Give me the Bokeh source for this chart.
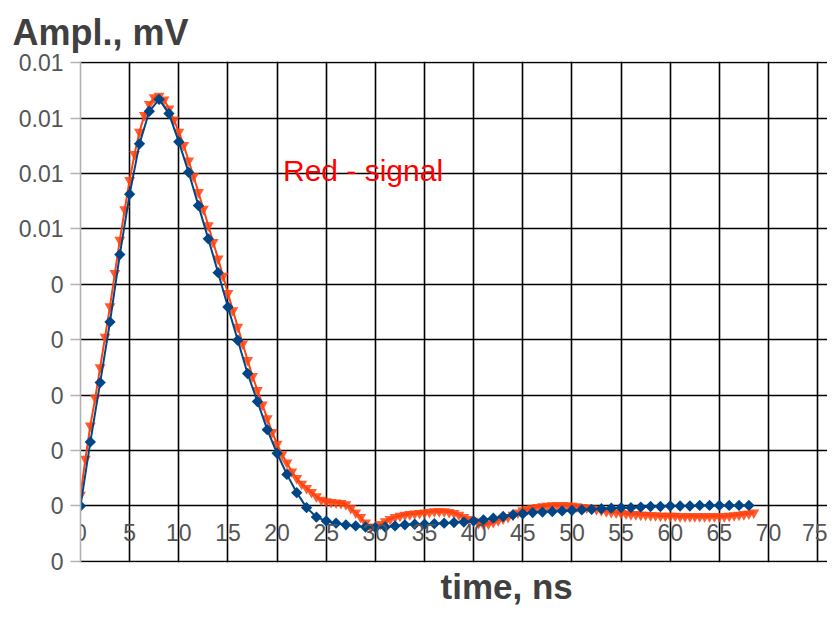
from bokeh.plotting import figure
from bokeh.models import FixedTicker, Label, Range1d, Title
from bokeh.embed import file_html
from bokeh.resources import INLINE
import math

# ---- data (amplitude values in units of 0.001) ----
blue_t = list(range(0, 69))
blue_v = [0.0, 1.156, 2.226, 3.321, 4.536, 5.626, 6.534, 7.121, 7.336, 7.08,
          6.57, 6.02, 5.42, 4.82, 4.21, 3.59, 2.99, 2.39, 1.885, 1.377,
          0.95, 0.57, 0.24, -0.03, -0.20, -0.27, -0.31, -0.34, -0.36, -0.38,
          -0.39, -0.38, -0.36, -0.34, -0.33, -0.33, -0.32, -0.31, -0.30, -0.29,
          -0.27, -0.25, -0.22, -0.19, -0.16, -0.14, -0.12, -0.11, -0.10, -0.09,
          -0.08, -0.07, -0.06, -0.05, -0.04, -0.03, -0.03, -0.02, -0.01, -0.01,
          0.0, 0.0, 0.0, 0.01, 0.01, 0.01, 0.01, 0.01, 0.01]

red_v = [0.2, 0.85, 1.45, 1.95, 2.5, 3.05, 3.6, 4.2, 4.8, 5.35,
         5.88, 6.35, 6.75, 7.05, 7.25, 7.37, 7.40, 7.33, 7.17, 6.97,
         6.75, 6.51, 6.23, 5.95, 5.66, 5.36, 5.06, 4.76, 4.46, 4.15,
         3.84, 3.53, 3.23, 2.93, 2.63, 2.34, 2.09, 1.83, 1.58, 1.33,
         1.12, 0.93, 0.78, 0.62, 0.50, 0.40, 0.32, 0.25, 0.17, 0.11,
         0.08, 0.07, 0.06, 0.05, 0.03, -0.04, -0.12, -0.20, -0.30, -0.38,
         -0.38, -0.33, -0.28, -0.24, -0.20, -0.18, -0.16, -0.15, -0.14, -0.13,
         -0.12, -0.11, -0.10, -0.10, -0.10, -0.11, -0.13, -0.16, -0.20, -0.24,
         -0.27, -0.31, -0.33, -0.32, -0.29, -0.26, -0.23, -0.20, -0.16, -0.12,
         -0.08, -0.06, -0.04, -0.02, -0.01, 0.0, 0.01, 0.01, 0.01, 0.01,
         0.0, -0.01, -0.02, -0.03, -0.05, -0.06, -0.08, -0.10, -0.11, -0.12,
         -0.13, -0.14, -0.15, -0.15, -0.16, -0.16, -0.17, -0.17, -0.18, -0.18,
         -0.18, -0.18, -0.19, -0.19, -0.19, -0.19, -0.19, -0.19, -0.19, -0.19,
         -0.19, -0.19, -0.18, -0.17, -0.16, -0.15, -0.14, -0.12]
red_t = [i * 0.5 for i in range(len(red_v))]

x_ticks = [0, 5, 10, 15, 20, 25, 30, 35, 40, 45, 50, 55, 60, 65, 70, 75]
y_ticks = [-0.001, 0.0, 0.001, 0.002, 0.003, 0.004, 0.005, 0.006, 0.007, 0.008]
y_tick_labels = ["0", "0", "0", "0", "0", "0", "0.01", "0.01", "0.01", "0.01"]

y_title = "Ampl., mV"
x_title = "time, ns"
note = "Red - signal"

BLUE = "#004586"
RED = "#ff420e"
FONT = "Liberation Sans"

Y0, Y1 = -0.00102, 0.00802

p = figure(width=827, height=609, output_backend="svg", toolbar_location=None,
           x_range=Range1d(0, 76), y_range=Range1d(Y0, Y1),
           min_border_left=80, min_border_top=61, min_border_bottom=47,
           min_border_right=0)
p.outline_line_color = None

# top title
p.title.text = y_title
p.title.align = "left"
p.title.offset = -68
p.title.text_font = FONT
p.title.text_font_style = "bold"
p.title.text_font_size = "36px"
p.title.text_color = "#404040"
p.title.vertical_align = "bottom"
p.title.standoff = 18

# bottom title
p.add_layout(Title(text=x_title, align="left", offset=360, text_font=FONT,
                   text_font_style="bold", text_font_size="35px",
                   text_color="#404040", vertical_align="bottom", standoff=5),
             "below")

# grids
p.xgrid.ticker = FixedTicker(ticks=x_ticks[1:])
p.ygrid.ticker = FixedTicker(ticks=y_ticks)
for g in (p.xgrid, p.ygrid):
    g.grid_line_color = "#000000"
    g.grid_line_width = 1.6

# y axis
ya = p.yaxis[0]
ya.ticker = FixedTicker(ticks=y_ticks)
ya.major_label_overrides = {t: l for t, l in zip(y_ticks, y_tick_labels)}
ya.axis_line_color = "#b3b3b3"
ya.axis_line_width = 1.6
ya.major_tick_line_color = "#b3b3b3"
ya.major_tick_line_width = 1.6
ya.major_tick_out = 10
ya.major_tick_in = 0
ya.minor_tick_line_color = None
ya.major_label_standoff = 7
ya.major_label_text_font = FONT
ya.major_label_text_font_size = "23px"
ya.major_label_text_color = "#555555"

# x axis crossing at y = 0
xa = p.xaxis[0]
xa.fixed_location = 0
xa.ticker = FixedTicker(ticks=x_ticks)
xa.axis_line_color = None
xa.major_tick_line_color = None
xa.minor_tick_line_color = None
xa.major_label_standoff = 12
xa.major_label_text_font = FONT
xa.major_label_text_font_size = "23px"
xa.major_label_text_color = "#555555"

red_y = [v * 1e-3 for v in red_v]
blue_y = [v * 1e-3 for v in blue_v]

p.line(red_t, red_y, line_color=RED, line_width=2)
p.scatter(red_t, red_y, marker="inverted_triangle", size=11,
          fill_color=RED, fill_alpha=0.85, line_color=None)
p.line(blue_t, blue_y, line_color=BLUE, line_width=2)
p.scatter(blue_t, blue_y, marker="square", angle=math.pi / 4, size=8,
          fill_color=BLUE, line_color=None)

p.add_layout(Label(x=20.6, y=0.00605, text=note, text_font=FONT,
                   text_font_size="30px", text_color="#ff0000",
                   text_baseline="alphabetic"))

open("out.html", "w").write(file_html(p, INLINE))
